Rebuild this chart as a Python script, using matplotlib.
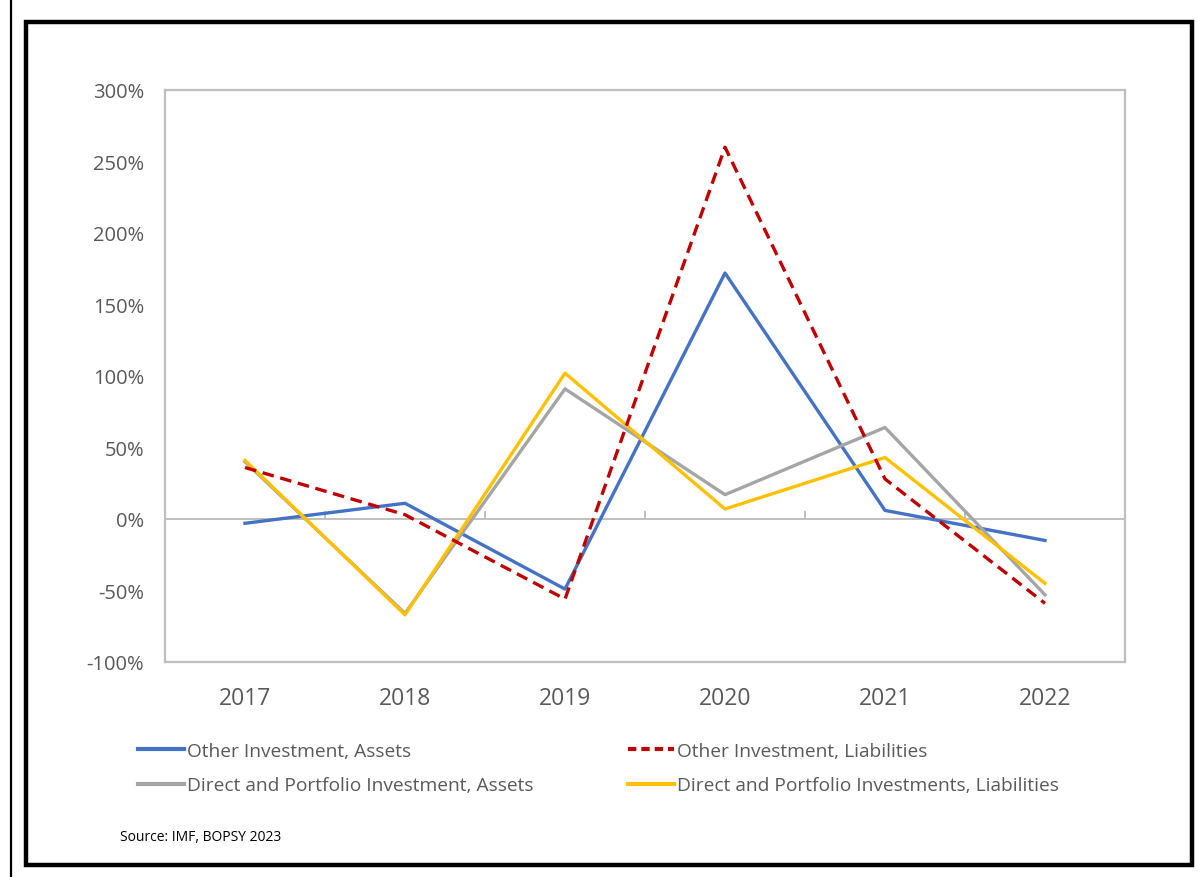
import matplotlib
matplotlib.use("Agg")
import matplotlib.pyplot as plt
from matplotlib.patches import Rectangle
from matplotlib.lines import Line2D
from matplotlib.ticker import FuncFormatter, MultipleLocator

plt.rcParams['font.family'] = ['Open Sans', 'DejaVu Sans']

years = ["2017", "2018", "2019", "2020", "2021", "2022"]
oi_assets = [-3, 11, -49, 172, 6, -15]
oi_liabilities = [36, 3, -56, 260, 28, -59]
dpi_assets = [40, -66, 91, 17, 64, -53]
dpi_liabilities = [41, -67, 102, 7, 43, -45]

labels = ["Other Investment, Assets", "Other Investment, Liabilities",
          "Direct and Portfolio Investment, Assets",
          "Direct and Portfolio Investments, Liabilities"]
source = "Source: IMF, BOPSY 2023"

W, H = 1198, 878
fig = plt.figure(figsize=(W / 100, H / 100), dpi=100)
fig.patch.set_facecolor("white")

# outer frame and page line
fig.add_artist(Rectangle((26.5 / W, 1 - 865.5 / H), (1191.5 - 26.5) / W, (865.5 - 23) / H,
                         transform=fig.transFigure, fill=False, edgecolor="black", lw=3.2))
fig.add_artist(Line2D([10.5 / W, 10.5 / W], [0, 1], transform=fig.transFigure, color="black", lw=1.6))

ax = fig.add_axes([165 / W, 1 - 663 / H, (1125 - 165) / W, (663 - 91) / H])
x = list(range(len(years)))

colors = {"blue": "#4472C4", "red": "#C00000", "gray": "#A5A5A5", "yellow": "#FFC000"}
ax.plot(x, oi_assets, color=colors["blue"], lw=2.4, zorder=3)
ax.plot(x, oi_liabilities, color=colors["red"], lw=2.4, ls=(0, (3.5, 2)), zorder=4)
ax.plot(x, dpi_assets, color=colors["gray"], lw=2.4, zorder=3)
ax.plot(x, dpi_liabilities, color=colors["yellow"], lw=2.4, zorder=3)

ax.set_xlim(-0.5, len(years) - 0.5)
ax.set_ylim(-100, 300)
ax.yaxis.set_major_locator(MultipleLocator(50))
ax.yaxis.set_major_formatter(FuncFormatter(lambda v, p: f"{int(v)}%"))
ax.set_xticks(x)
ax.set_xticklabels(years)
ax.tick_params(axis="x", length=0, pad=17, labelsize=16.5, labelcolor="#595959")
ax.tick_params(axis="y", length=0, pad=15, labelsize=14.5, labelcolor="#595959")
for s in ax.spines.values():
    s.set_color("#BFBFBF")
    s.set_linewidth(1.6)

# horizontal category axis at zero with tick marks between categories
ax.axhline(0, color="#BFBFBF", lw=1.4, zorder=1)
bounds = [i + 0.5 for i in range(len(years) - 1)]
ax.vlines(bounds, 0, 5.5, color="#BFBFBF", lw=1.4, zorder=1)

handles = [Line2D([], [], color=colors["blue"], lw=3),
           Line2D([], [], color=colors["red"], lw=3, ls=(0, (2, 1.2))),
           Line2D([], [], color=colors["gray"], lw=3),
           Line2D([], [], color=colors["yellow"], lw=3)]
order = [0, 2, 1, 3]
leg = fig.legend([handles[i] for i in order], [labels[i] for i in order],
                 loc="upper left", bbox_to_anchor=(130 / W, 1 - 735 / H), ncol=2,
                 frameon=False, fontsize=13.8, handlelength=2.4, handletextpad=0.15,
                 columnspacing=4.95, labelspacing=0.87, borderaxespad=0)
for t in leg.get_texts():
    t.set_color("#595959")

fig.text(120 / W, 1 - 838 / H, source, fontsize=10, color="black", va="center", ha="left")

fig.savefig("out.png", dpi=100, facecolor="white")
